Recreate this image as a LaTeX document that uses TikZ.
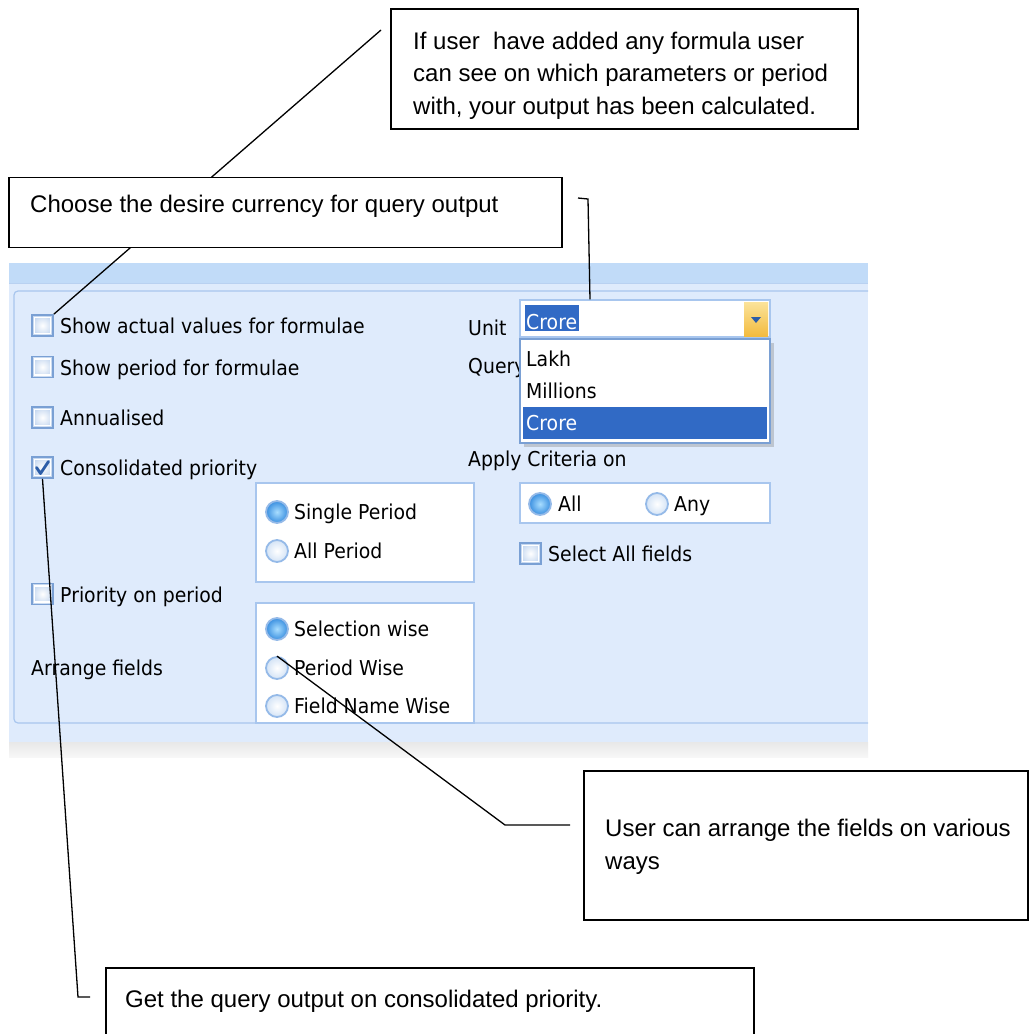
\documentclass[tikz,border=0pt]{standalone}
\usepackage{fontspec}
\newfontfamily\notefont{Liberation Sans}
\newfontfamily\uifont[FakeStretch=0.92]{DejaVu Sans}
\usetikzlibrary{positioning,calc,shadows}
\definecolor{barblue}{HTML}{C1DBF8}
\definecolor{panelblue}{HTML}{DFEBFC}
\definecolor{frameblue}{HTML}{A8C6EE}
\definecolor{boxblue}{HTML}{7AA0D4}
\definecolor{chkfill}{HTML}{C6D8F0}
\definecolor{radioring}{HTML}{95BAE8}
\definecolor{radiofill}{HTML}{D3E3F6}
\definecolor{radiocore}{HTML}{A8DDFF}
\definecolor{radioblue}{HTML}{3A8FE0}
\definecolor{selblue}{HTML}{316AC5}
\definecolor{checkblue}{HTML}{2C5DA8}
\definecolor{btntop}{HTML}{FBE39A}
\definecolor{btnbot}{HTML}{F3BB3F}
\tikzset{
  note_box/.style = {rectangle, draw=black, line width=1.6pt, fill=white,
    inner sep=0pt},% callout frame
  note_text/.style = {anchor=base west, inner sep=0pt, align=left,
    font=\notefont\fontsize{24}{32.5}\selectfont},
  note_line/.style = {draw=black, line width=1.3pt},
  ui_text/.style = {anchor=base west, inner sep=0pt, text=black,
    font=\uifont\fontsize{20.5}{24}\selectfont},
  chk_box/.style = {rectangle, draw=boxblue, line width=1.8pt, minimum size=21pt,
    inner sep=0pt, inner color=white, outer color=chkfill,
    path picture={\draw[white, line width=1.4pt]
      ([shift={(2.5pt,2.5pt)}]path picture bounding box.south west) rectangle
      ([shift={(-2.5pt,-2.5pt)}]path picture bounding box.north east);}},% check box
  radio_off/.style = {circle, draw=radioring, line width=1.8pt, minimum size=22pt,
    inner sep=0pt, inner color=white, outer color=radiofill},
  radio_on/.style = {radio_off, inner color=radiocore, outer color=radioblue},
  group_box/.style = {rectangle, draw=frameblue, line width=1.2pt, fill=white,
    inner sep=0pt}
}
\begin{document}
\begin{tikzpicture}[x=1pt,y=-1pt]
\useasboundingbox (0,0) rectangle (1029,1034);
\fill[white] (0,0) rectangle (1029,1034);

% window
\fill[barblue] (9,263) rectangle (868,283);
\fill[panelblue] (9,283) rectangle (868,742);
\draw[frameblue!80] (9,283) -- (868,283);
\shade[top color=gray!18, bottom color=gray!6] (9,742) rectangle (868,757);
\draw[frameblue, line width=1.2pt, rounded corners=4pt] (868,291) -- (14,291) -- (14,723) -- (868,723);

% left column
\node[chk_box] (chkShowActual) at (42.5,325.5) {};
\node[ui_text] at (60,333) {Show actual values for formulae};
\node[chk_box] (chkShowPeriod) at (42.5,367) {};
\node[ui_text] at (60,375) {Show period for formulae};
\node[chk_box] (chkAnnualised) at (42.5,417.5) {};
\node[ui_text] at (60,425) {Annualised};
\node[chk_box] (chkConsolidated) at (42.5,467.5) {};
\draw[checkblue, line width=2.8pt, line cap=round, line join=round]
  ([shift={(-6,0)}]chkConsolidated.center) -- ++(4,6) -- ++(8,-12);
\node[ui_text] at (60,475) {Consolidated priority};
\node[chk_box] (chkPriority) at (42.5,594) {};
\node[ui_text] at (60,602) {Priority on period};
\node[ui_text] at (31,675) {Arrange fields};

% radio groups
\node[group_box, minimum width=218pt, minimum height=99pt] (periodGroup) at (365,532.5) {};
\node[radio_on] (radSingle) at (277,512) {};
\node[ui_text] at (294,519) {Single Period};
\node[radio_off] (radAllPeriod) at (277,551) {};
\node[ui_text] at (294,558) {All Period};
\node[group_box, minimum width=218pt, minimum height=120pt] (arrangeGroup) at (365,663) {};
\node[radio_on] (radSelection) at (277,629) {};
\node[ui_text] at (294,636) {Selection wise};
\node[radio_off] (radPeriodWise) at (277,668) {};
\node[ui_text] at (294,675) {Period Wise};
\node[radio_off] (radFieldName) at (277,706) {};
\node[ui_text] at (294,713) {Field Name Wise};

% right column
\node[ui_text] at (468,335) {Unit};
\node[ui_text] at (468,373) {Query};
\node[ui_text] at (468,466) {Apply Criteria on};
\node[group_box, minimum width=250pt, minimum height=40pt] (criteriaGroup) at (645,503) {};
\node[radio_on] (radAll) at (540,504) {};
\node[ui_text] at (558,511) {All};
\node[radio_off] (radAny) at (657,504) {};
\node[ui_text] at (674,511) {Any};
\node[chk_box] (chkSelectAll) at (530.5,553.5) {};
\node[ui_text] at (548,561) {Select All fields};

% unit combo and its list
\node[group_box, minimum width=250pt, minimum height=37pt] (unitCombo) at (645,318.5) {};
\fill[selblue] (525,305) rectangle (579,331);
\node[ui_text, text=white] at (526,329) {Crore};
\node[rectangle, inner sep=0pt, minimum width=24pt, minimum height=34pt,
  top color=btntop, bottom color=btnbot] (unitBtn) at (756,319) {};
\fill[checkblue] ([shift={(-5,-2)}]unitBtn.center) -- ++(10,0) -- ++(-5,6) -- cycle;
\node[group_box, draw=boxblue, minimum width=250pt, minimum height=104pt,
  drop shadow={shadow xshift=4pt, shadow yshift=-4pt, opacity=0.35}] (unitList) at (645,391) {};
\fill[selblue] (523,407) rectangle (767,439);
\node[ui_text] at (526,366) {Lakh};
\node[ui_text] at (526,398) {Millions};
\node[ui_text, text=white] at (526,430) {Crore};

% connectors
\coordinate (formulaTip) at (381,30);
\draw[note_line] (formulaTip) -- (chkShowActual.north east);
\coordinate (currencyTip) at (578,198);
\draw[note_line] (currencyTip) -- ++(10,1) -- ([xshift=-55pt]unitCombo.north);
\coordinate (arrangeTip) at (570,825);
\draw[note_line] (arrangeTip) -- ++(-65,0) -- (radPeriodWise.north);
\coordinate (priorityTip) at (90,997);
\draw[note_line] (chkConsolidated.south) -- ([xshift=-12pt]priorityTip) -- (priorityTip);

% callouts (base of a multi-line text is its last line)
\node[note_box, minimum width=467pt, minimum height=120pt] (formulaNote) at (624.5,69) {};
\node[note_text] at (413,114) {If user\ \ have added any formula user\\can see on which parameters or period\\with, your output has been calculated.};
\node[note_box, minimum width=553pt, minimum height=70pt] (currencyNote) at (285.5,212.5) {};
\node[note_text] at (30,212) {Choose the desire currency for query output};
\node[note_box, minimum width=444pt, minimum height=149pt] (arrangeNote) at (806,845.5) {};
\node[note_text] at (605,869) {User can arrange the fields on various\\ways};
\node[note_box, minimum width=648pt, minimum height=80pt] (priorityNote) at (430,1008) {};
\node[note_text] at (125,1007) {Get the query output on consolidated priority.};
\end{tikzpicture}
\end{document}
